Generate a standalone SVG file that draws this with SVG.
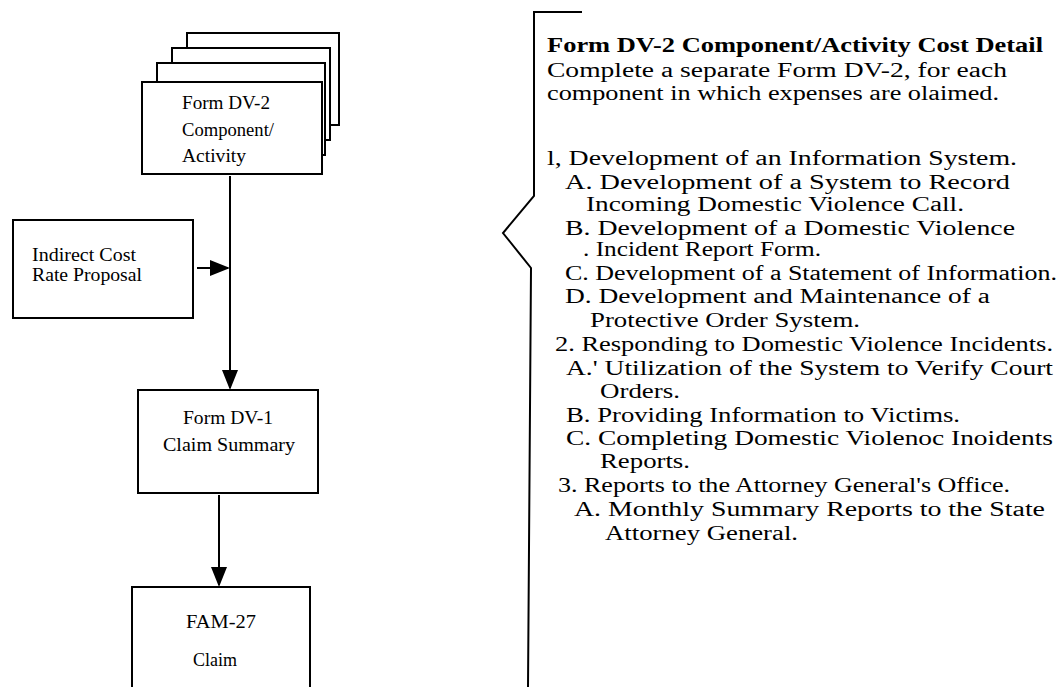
<svg xmlns="http://www.w3.org/2000/svg" width="1059" height="687" viewBox="0 0 1059 687">
<style>
.box{fill:#fff;stroke:#000;stroke-width:2}
.ln{fill:none;stroke:#000;stroke-width:2}
.t{font-family:"Liberation Serif","Times New Roman",serif;font-size:18px;fill:#000}
.r{font-family:"Liberation Serif","Times New Roman",serif;font-size:20.5px;fill:#000}
.b{font-weight:bold}
</style>
<defs>
<marker id="ahd" markerWidth="20" markerHeight="20" refX="18" refY="8" orient="auto" markerUnits="userSpaceOnUse" viewBox="0 0 20 16">
<path d="M0,0 L20,8 L0,16 z" fill="#000"/>
</marker>
</defs>
<rect width="1059" height="687" fill="#fff"/>

<g id="dv2-stack">
<rect class="box" x="187" y="33" width="152" height="92"/>
<rect class="box" x="172" y="48" width="158" height="92"/>
<rect class="box" x="157" y="63" width="168" height="92"/>
<rect class="box" x="142" y="82" width="180" height="92"/>
<text class="t" x="182" y="109" textLength="88" lengthAdjust="spacingAndGlyphs">Form DV-2</text>
<text class="t" x="182" y="136" textLength="92" lengthAdjust="spacingAndGlyphs">Component/</text>
<text class="t" x="182" y="162" textLength="64" lengthAdjust="spacingAndGlyphs">Activity</text>
</g>

<g id="indirect">
<rect class="box" x="13" y="220" width="180" height="98"/>
<text class="t" x="32" y="261" textLength="104" lengthAdjust="spacingAndGlyphs">Indirect Cost</text>
<text class="t" x="32" y="281" textLength="110" lengthAdjust="spacingAndGlyphs">Rate Proposal</text>
</g>

<g id="dv1">
<rect class="box" x="138" y="390" width="180" height="103"/>
<text class="t" x="228" y="424" text-anchor="middle" textLength="90" lengthAdjust="spacingAndGlyphs">Form DV-1</text>
<text class="t" x="229" y="451" text-anchor="middle" textLength="132" lengthAdjust="spacingAndGlyphs">Claim Summary</text>
</g>

<g id="fam27">
<rect class="box" x="132" y="587" width="178" height="110"/>
<text class="t" x="221" y="628" text-anchor="middle" textLength="70" lengthAdjust="spacingAndGlyphs">FAM-27</text>
<text class="t" x="215" y="666" text-anchor="middle" textLength="44" lengthAdjust="spacingAndGlyphs">Claim</text>
</g>

<g id="connectors">
<line class="ln" x1="230" y1="176" x2="230" y2="388" marker-end="url(#ahd)"/>
<line class="ln" x1="197" y1="268" x2="228" y2="268" marker-end="url(#ahd)"/>
<line class="ln" x1="219" y1="495" x2="219" y2="585" marker-end="url(#ahd)"/>
</g>

<g id="cost-detail">
<path class="ln" d="M582,12 L534,12 L534,196 L503,233 L531,268 L528,687"/>
<text class="r b" x="547" y="52" textLength="496" lengthAdjust="spacingAndGlyphs">Form DV-2 Component/Activity Cost Detail</text>
<text class="r" x="547" y="77" textLength="460" lengthAdjust="spacingAndGlyphs">Complete a separate Form DV-2, for each</text>
<text class="r" x="547" y="100" textLength="452" lengthAdjust="spacingAndGlyphs">component in which expenses are olaimed.</text>
<text class="r" x="547" y="165" textLength="470" lengthAdjust="spacingAndGlyphs">l, Development of an Information System.</text>
<text class="r" x="565" y="189" textLength="445" lengthAdjust="spacingAndGlyphs">A. Development of a System to Record</text>
<text class="r" x="586" y="211" textLength="378" lengthAdjust="spacingAndGlyphs">Incoming Domestic Violence Call.</text>
<text class="r" x="565" y="235" textLength="450" lengthAdjust="spacingAndGlyphs">B. Development of a Domestic Violence</text>
<text class="r" x="583" y="256" textLength="238" lengthAdjust="spacingAndGlyphs">. Incident Report Form.</text>
<text class="r" x="565" y="280" textLength="492" lengthAdjust="spacingAndGlyphs">C. Development of a Statement of Information.</text>
<text class="r" x="565" y="303" textLength="425" lengthAdjust="spacingAndGlyphs">D. Development and Maintenance of a</text>
<text class="r" x="590" y="327" textLength="270" lengthAdjust="spacingAndGlyphs">Protective Order System.</text>
<text class="r" x="555" y="351" textLength="498" lengthAdjust="spacingAndGlyphs">2. Responding to Domestic Violence Incidents.</text>
<text class="r" x="566" y="375" textLength="487" lengthAdjust="spacingAndGlyphs">A.' Utilization of the System to Verify Court</text>
<text class="r" x="600" y="398" textLength="80" lengthAdjust="spacingAndGlyphs">Orders.</text>
<text class="r" x="566" y="422" textLength="394" lengthAdjust="spacingAndGlyphs">B. Providing Information to Victims.</text>
<text class="r" x="566" y="445" textLength="487" lengthAdjust="spacingAndGlyphs">C. Completing Domestic Violenoc Inoidents</text>
<text class="r" x="600" y="468" textLength="90" lengthAdjust="spacingAndGlyphs">Reports.</text>
<text class="r" x="558" y="492" textLength="452" lengthAdjust="spacingAndGlyphs">3.  Reports to the Attorney General's Office.</text>
<text class="r" x="574" y="516" textLength="471" lengthAdjust="spacingAndGlyphs">A. Monthly Summary Reports to the State</text>
<text class="r" x="605" y="540" textLength="193" lengthAdjust="spacingAndGlyphs">Attorney General.</text>
</g>
</svg>
